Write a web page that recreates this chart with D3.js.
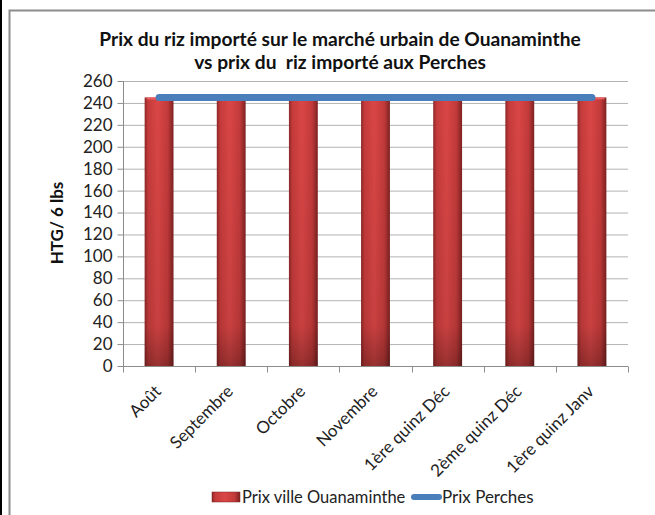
<!DOCTYPE html>
<html><head><meta charset="utf-8">
<script src="https://cdn.jsdelivr.net/npm/d3@7"></script>
<style>body{margin:0;background:#fff;} svg{display:block;font-family:Lato,"Open Sans",sans-serif;}</style>
</head><body><svg id="c" width="655" height="515"></svg>
<script>
const categories = ["Août","Septembre","Octobre","Novembre","1ère quinz Déc","2ème quinz Déc","1ère quinz Janv"];
const prixOuanaminthe = [245,245,245,245,245,245,245];
const prixPerches = [245,245,245,245,245,245,245];
const yTicks = [0,20,40,60,80,100,120,140,160,180,200,220,240,260];
const titleLines = ["Prix du riz importé sur le marché urbain de Ouanaminthe","vs prix du  riz importé aux Perches"];
const seriesNames = ["Prix ville Ouanaminthe","Prix Perches"];

const svg = d3.select("#c");
const defs = svg.append("defs");
const g1 = defs.append("linearGradient").attr("id","barG").attr("x1","0").attr("x2","1").attr("y1","0").attr("y2","0");
[["0%","#8f2727"],["12%","#c53b3b"],["45%","#da4646"],["80%","#c33a3a"],["100%","#7e2222"]].forEach(s=>g1.append("stop").attr("offset",s[0]).attr("stop-color",s[1]));
const g2 = defs.append("linearGradient").attr("id","barV").attr("x1","0").attr("x2","0").attr("y1","0").attr("y2","1");
[["0%","#000","0"],["85%","#000","0.08"],["100%","#000","0.3"]].forEach(s=>g2.append("stop").attr("offset",s[0]).attr("stop-color",s[1]).attr("stop-opacity",s[2]));

// outer frame
svg.append("rect").attr("x",0).attr("y",0).attr("width",2).attr("height",515).attr("fill","#000");
svg.append("path").attr("d","M9.5,520 V10.5 H660").attr("fill","none").attr("stroke","#8c8c8c").attr("stroke-width",2);

const m = {l:123,r:628,t:81,b:366};
const x = d3.scaleBand().domain(categories).range([m.l,m.r]).paddingInner(0.6).paddingOuter(0.3);
const xb = d3.scaleBand().domain(categories).range([m.l,m.r]);
const y = d3.scaleLinear().domain([0,260]).range([m.b,m.t]);

// gridlines
svg.append("g").selectAll("line").data(yTicks.filter(d=>d>0)).join("line")
  .attr("x1",m.l).attr("x2",m.r).attr("y1",d=>y(d)+0.5).attr("y2",d=>y(d)+0.5)
  .attr("stroke","#b3b3b3").attr("stroke-width",1);

// y axis
const ya = svg.append("g").attr("transform",`translate(${m.l+0.5},0)`)
  .call(d3.axisLeft(y).tickValues(yTicks).tickSize(6).tickPadding(5));
ya.select(".domain").attr("stroke","#8c8c8c").attr("d",`M0,${m.t}V${m.b}`);
ya.selectAll(".tick line").attr("stroke","#8c8c8c");
ya.selectAll("text").attr("font-size",17).attr("fill","#222").style("font-family","Lato,'Open Sans',sans-serif");

// x axis
const xa = svg.append("g").attr("transform",`translate(0,${m.b+0.5})`);
xa.append("line").attr("x1",m.l).attr("x2",m.r).attr("stroke","#8c8c8c");
xa.selectAll("line.t").data(categories.concat(["_end"])).join("line").attr("class","t")
  .attr("x1",(d,i)=>Math.round(m.l+i*xb.step())+0.5).attr("x2",(d,i)=>Math.round(m.l+i*xb.step())+0.5)
  .attr("y1",0).attr("y2",6).attr("stroke","#8c8c8c");
xa.selectAll("text").data(categories).join("text")
  .attr("transform",d=>`translate(${xb(d)+xb.bandwidth()/2+3},${26}) rotate(-45)`)
  .attr("text-anchor","end").attr("font-size",17).attr("fill","#222").text(d=>d);

// bars
const bars = svg.append("g");
bars.selectAll("rect.b").data(categories).join("rect").attr("class","b")
  .attr("x",d=>x(d)).attr("width",x.bandwidth())
  .attr("y",(d,i)=>y(prixOuanaminthe[i])).attr("height",(d,i)=>m.b-y(prixOuanaminthe[i]))
  .attr("fill","url(#barG)");
bars.selectAll("rect.s").data(categories).join("rect").attr("class","s")
  .attr("x",d=>x(d)).attr("width",x.bandwidth())
  .attr("y",(d,i)=>y(prixOuanaminthe[i])).attr("height",(d,i)=>m.b-y(prixOuanaminthe[i]))
  .attr("fill","url(#barV)");
bars.selectAll("rect.top").data(categories).join("rect").attr("class","top")
  .attr("x",d=>x(d)+2).attr("width",x.bandwidth()-4)
  .attr("y",(d,i)=>y(prixOuanaminthe[i])).attr("height",2)
  .attr("fill","#e86060");

// line
const line = d3.line().x((d,i)=>xb(categories[i])+xb.bandwidth()/2).y(d=>y(d));
svg.append("path").datum(prixPerches).attr("d",line).attr("fill","none")
  .attr("stroke","#4a7ebb").attr("stroke-width",7).attr("stroke-linecap","round");

// title
svg.append("g").selectAll("text").data(titleLines).join("text")
  .attr("x",340).attr("y",(d,i)=>46+i*23).attr("text-anchor","middle")
  .style("white-space","pre")
  .attr("font-size",19.2).attr("font-weight","bold").attr("fill","#111").text(d=>d);

// y label
svg.append("text").attr("transform","translate(63,223) rotate(-90)").attr("text-anchor","middle")
  .attr("font-size",17).attr("font-weight","bold").attr("fill","#111").text("HTG/ 6 lbs");

// legend
const lg = svg.append("g");
lg.append("rect").attr("x",212).attr("y",492).attr("width",28).attr("height",10).attr("fill","url(#barG)").attr("stroke","#7e2222").attr("stroke-width",0.5);
lg.append("text").attr("x",242).attr("y",503).attr("font-size",16.5).attr("fill","#222").text(seriesNames[0]);
lg.append("line").attr("x1",414).attr("x2",439).attr("y1",497).attr("y2",497).attr("stroke","#4a7ebb").attr("stroke-width",6).attr("stroke-linecap","round");
lg.append("text").attr("x",442).attr("y",503).attr("font-size",17).attr("fill","#222").text(seriesNames[1]);
</script></body></html>
